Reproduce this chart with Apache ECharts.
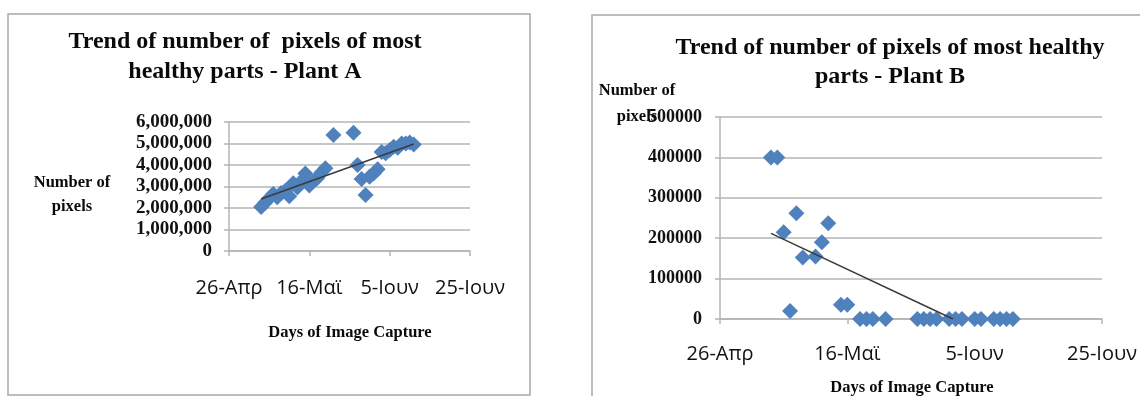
<!DOCTYPE html>
<html>
<head>
<meta charset="utf-8">
<script src="https://cdn.jsdelivr.net/npm/echarts@6/dist/echarts.min.js"></script>
<style>
  html, body { margin: 0; padding: 0; background: #ffffff; }
  #chart { width: 1140px; height: 396px; }
</style>
</head>
<body>
<div id="chart"></div>
<script>
// Date ticks, one every 20 days starting 26 April (x values are days since 26 April)
const dateTicks = ['26-Απρ', '16-Μαϊ', '5-Ιουν', '25-Ιουν'];

// Plant A: healthy-part pixel counts per capture day
const plantADays = [8, 9, 10, 11, 12, 13, 14, 15, 16, 17, 18, 19, 20, 21, 22, 23, 24, 26,
  31, 32, 33, 34, 35, 36, 37, 38, 39, 40, 41, 42, 43, 44, 45, 46];
const plantAPixels = [2050000, 2250000, 2450000, 2650000, 2500000, 2700000, 2800000, 2550000,
  3150000, 2950000, 3250000, 3600000, 3050000, 3250000, 3400000, 3650000, 3850000, 5400000,
  5500000, 4000000, 3350000, 2600000, 3450000, 3600000, 3800000, 4600000, 4550000, 4700000,
  4850000, 4800000, 5000000, 5000000, 5050000, 4950000];
const plantATrendDays = [8, 46];
const plantATrendPixels = [2420000, 4980000];

// Plant B: healthy-part pixel counts per capture day
const plantBDays = [8, 9, 10, 11, 12, 13, 15, 16, 17, 19, 20, 22, 23, 24, 26,
  31, 32, 33, 34, 36, 37, 38, 40, 41, 43, 44, 45, 46];
const plantBPixels = [400000, 400000, 215000, 20000, 262000, 152000, 155000, 190000, 237000,
  35000, 35000, 0, 0, 0, 0, 0, 0, 0, 0, 0, 0, 0, 0, 0, 0, 0, 0, 0];
const plantBTrendDays = [8, 36.6];
const plantBTrendPixels = [212000, 0];

const zip = (xs, ys) => xs.map((x, i) => [x, ys[i]]);

const serif = "'Liberation Serif', 'Times New Roman', serif";
const sans = "'Open Sans', 'Liberation Sans', sans-serif";
const gridGray = '#b4b4b4';
const pointBlue = '#4F81BD';

function xAxisFor(gridIndex, margin) {
  return {
    gridIndex, type: 'value', min: 0, max: 60, interval: 20,
    axisLine: { show: true, onZero: false, lineStyle: { color: gridGray, width: 1.5 } },
    axisTick: { show: true, length: 5, lineStyle: { color: gridGray, width: 1.5 } },
    splitLine: { show: false },
    axisLabel: {
      margin, color: '#111', fontFamily: sans, fontSize: 20,
      formatter: v => dateTicks[Math.round(v / 20)]
    }
  };
}

function yAxisFor(gridIndex, max, interval, formatter, margin, fontSize) {
  return {
    gridIndex, type: 'value', min: 0, max, interval,
    axisLine: { show: true, lineStyle: { color: gridGray, width: 1.5 } },
    axisTick: { show: true, length: 5, lineStyle: { color: gridGray, width: 1.5 } },
    splitLine: { show: true, lineStyle: { color: gridGray, width: 1.5 } },
    axisLabel: {
      margin, color: '#111', fontFamily: serif, fontWeight: 'bold', fontSize, formatter
    }
  };
}

function textEl(text, x, y, size, lineHeight) {
  return {
    type: 'text', x, y, z: 10,
    style: {
      text, fill: '#0a0a0a', font: `bold ${size}px ${serif}`,
      align: 'center', verticalAlign: 'middle', lineHeight: lineHeight || size
    }
  };
}

function pointSeries(axisIndex, days, pixels) {
  return {
    type: 'scatter', xAxisIndex: axisIndex, yAxisIndex: axisIndex,
    symbol: 'diamond', symbolSize: 16,
    itemStyle: { color: pointBlue, opacity: 1 },
    data: zip(days, pixels)
  };
}

function trendSeries(axisIndex, days, pixels) {
  return {
    type: 'line', xAxisIndex: axisIndex, yAxisIndex: axisIndex, z: 5,
    showSymbol: false, silent: true,
    lineStyle: { color: '#3a3a3a', width: 1.5 },
    data: zip(days, pixels)
  };
}

const chart = echarts.init(document.getElementById('chart'), null, { renderer: 'canvas' });

chart.setOption({
  animation: false,
  backgroundColor: '#ffffff',
  grid: [
    { left: 229, top: 122, width: 241, height: 129 },
    { left: 720, top: 117, width: 382, height: 202 }
  ],
  xAxis: [xAxisFor(0, 27), xAxisFor(1, 25)],
  yAxis: [
    yAxisFor(0, 6000000, 1000000, v => v.toLocaleString('en-US'), 17, 19),
    yAxisFor(1, 500000, 100000, v => String(v), 18, 18)
  ],
  series: [
    pointSeries(0, plantADays, plantAPixels),
    trendSeries(0, plantATrendDays, plantATrendPixels),
    pointSeries(1, plantBDays, plantBPixels),
    trendSeries(1, plantBTrendDays, plantBTrendPixels)
  ],
  graphic: [
    // chart frames
    { type: 'rect', z: 0, shape: { x: 8, y: 14, width: 522, height: 381 },
      style: { fill: 'none', stroke: '#a8a8a8', lineWidth: 1.5 } },
    { type: 'rect', z: 0, shape: { x: 592, y: 15, width: 600, height: 420 },
      style: { fill: 'none', stroke: '#a8a8a8', lineWidth: 1.5 } },
    // Plant A texts
    textEl('Trend of number of  pixels of most\nhealthy parts - Plant A', 245, 57, 24, 30),
    textEl('Number of\npixels', 72, 195, 16.5, 24),
    textEl('Days of Image Capture', 350, 333, 16.5),
    // Plant B texts
    textEl('Trend of number of pixels of most healthy\nparts - Plant B', 890, 62, 24, 29),
    textEl('Number of\npixels', 637, 104, 16.5, 26),
    textEl('Days of Image Capture', 912, 388, 16.5)
  ]
});
</script>
</body>
</html>
